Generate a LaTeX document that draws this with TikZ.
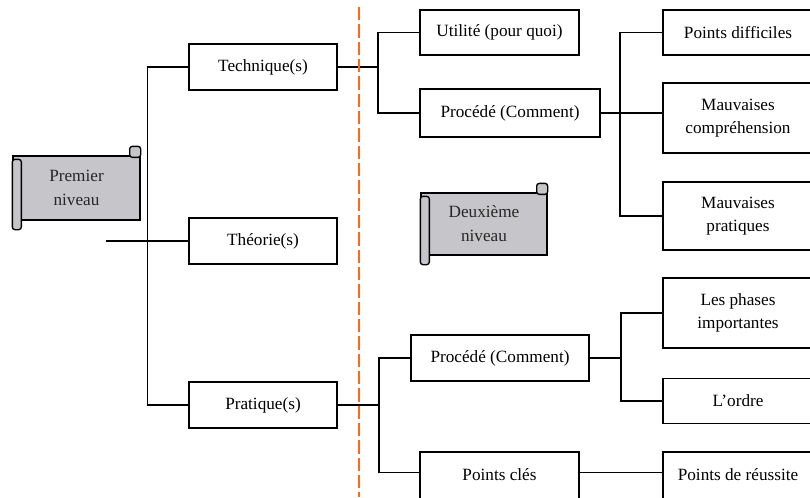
\documentclass[tikz,border=0pt]{standalone}
\usepackage{fontspec}
\setmainfont{Liberation Serif}
\usetikzlibrary{calc}
\definecolor{sepline}{HTML}{FF6A1A}
\definecolor{scrollgray}{HTML}{C6C6CA}
\newcommand{\scrollrolls}[1]{%
  \filldraw[scrollpart] ($(#1.north west)+(0,4)$) rectangle ($(#1.south west)+(9,9)$);
  \filldraw[scrollpart] ($(#1.north east)+(-11,-9)$) rectangle ($(#1.north east)+(0,2)$);
}

\begin{document}
\begin{tikzpicture}[x=0.75pt,y=-0.75pt,
    sz/.style 2 args={minimum width=#1*0.75pt,minimum height=#2*0.75pt},
    box/.style={draw,line width=1pt,inner sep=0pt,align=center,
      font=\fontsize{12.9}{17}\selectfont},
    scroll/.style={draw,line width=1pt,fill=scrollgray,inner sep=0pt,align=center,
      text=black!85,font=\fontsize{12.9}{18}\selectfont},
    scrollpart/.style={line width=1pt,fill=scrollgray,rounded corners=2pt},
    link/.style={line width=1pt}]
  \clip (0,0) rectangle (810,497);
  \node[scroll,sz={127}{64}] (premier) at (76.5,188) {Premier\\niveau};
  \scrollrolls{premier}
  \node[scroll,sz={126}{62}] (deuxieme) at (484,224) {Deuxième\\niveau};
  \scrollrolls{deuxieme}

  \node[box,sz={148}{46}] (tech) at (263,67) {Technique(s)};
  \node[box,sz={148}{46}] (theo) at (263,241) {Théorie(s)};
  \node[box,sz={148}{46}] (prat) at (263,405) {Pratique(s)};

  \node[box,sz={159}{45}] (util) at (499.5,32.5) {Utilité (pour quoi)};
  \node[box,sz={180}{48}] (proc1) at (510,113) {Procédé (Comment)};
  \node[box,sz={178}{46}] (proc2) at (500,358) {Procédé (Comment)};
  \node[box,sz={159}{68}] (cles) at (499.5,486) {Points clés\\~};

  \node[box,sz={150}{45}] (diff) at (738,32.5) {Points difficiles};
  \node[box,sz={150}{70}] (compr) at (738,118) {Mauvaises\\compréhension};
  \node[box,sz={150}{68}] (mprat) at (738,216) {Mauvaises\\pratiques};
  \node[box,sz={150}{70}] (phases) at (738,313) {Les phases\\importantes};
  \node[box,sz={150}{45}] (ordre) at (738,401) {L’ordre};
  \node[box,sz={150}{68}] (reuss) at (738,486) {Points de réussite\\~};

  \coordinate (start) at (106,241);
  \coordinate (b1) at (378,67);
  \coordinate (b2) at (620,113);
  \coordinate (b3) at (379,405);
  \coordinate (b4) at (621,358);

  \draw[link] (tech.west) -- ++(-41,0) |- (prat.west);
  \draw[link] (start) -- (theo.west);
  \draw[link] (tech.east) -- (b1);
  \draw[link] (util.west) -| (b1) |- (proc1.west);
  \draw[link] (proc1.east) -- (proc1.east -| compr.west);
  \draw[link] (diff.west) -| (b2) |- (mprat.west);
  \draw[link] (prat.east) -- (b3);
  \draw[link] (proc2.west) -| (b3) |- ($(cles.north west)+(0,21)$);
  \draw[link] ($(cles.north east)+(0,21)$) -- ($(reuss.north west)+(0,21)$);
  \draw[link] (proc2.east) -- (b4);
  \draw[link] (phases.west) -| (b4) |- (ordre.west);

  \draw[sepline,line width=2pt,dash pattern=on 10pt off 3pt] (359,7) -- (359,497);
\end{tikzpicture}
\end{document}
